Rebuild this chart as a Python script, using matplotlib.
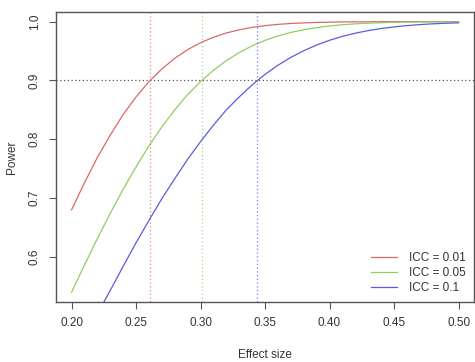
import matplotlib
matplotlib.use("Agg")
import matplotlib.pyplot as plt
import numpy as np

plt.rcParams['font.family'] = ['Liberation Sans', 'DejaVu Sans']

effect = np.round(np.arange(0.20, 0.5001, 0.01), 2)
power_001 = [0.680, 0.726, 0.769, 0.807, 0.842, 0.872, 0.898, 0.9195, 0.9376, 0.9524,
             0.9642, 0.9735, 0.9807, 0.9862, 0.9903, 0.9932, 0.9954, 0.9969, 0.9979, 0.9987,
             0.9991, 0.9995, 0.9997, 0.9998, 0.9999, 0.9999, 1.0, 1.0, 1.0, 1.0, 1.0]
power_005 = [0.540, 0.586, 0.631, 0.674, 0.715, 0.753, 0.789, 0.821, 0.850, 0.876,
             0.898, 0.9173, 0.9337, 0.9475, 0.9589, 0.9682, 0.9757, 0.9816, 0.9863, 0.9899,
             0.9927, 0.9947, 0.9963, 0.9974, 0.9982, 0.9988, 0.9992, 0.9994, 0.9996, 0.9997, 0.9998]
power_01 = [0.421, 0.462, 0.503, 0.543, 0.584, 0.624, 0.662, 0.699, 0.733, 0.766,
            0.796, 0.824, 0.850, 0.872, 0.8925, 0.9104, 0.9259, 0.9393, 0.9506, 0.9603,
            0.9683, 0.9750, 0.9804, 0.9848, 0.9883, 0.9911, 0.9933, 0.9950, 0.9963, 0.9973, 0.9980]
labels = ['ICC = 0.01', 'ICC = 0.05', 'ICC = 0.1']
cutoffs = [0.261, 0.301, 0.344]
target = 0.9

colors = ['#d9686a', '#8fcf5f', '#5b5be0']

fig = plt.figure(figsize=(4.75, 3.62), dpi=100)
ax = fig.add_axes([0.118, 0.166, 0.880, 0.801])

for y, c, lab in zip([power_001, power_005, power_01], colors, labels):
    ax.plot(effect, y, color=c, lw=0.9, label=lab)

ax.axhline(target, color='#555555', ls=(0, (1, 2)), lw=0.9)
for xc, c in zip(cutoffs, colors):
    ax.axvline(xc, color=c, ls=(0, (1, 2)), lw=0.9, alpha=0.8)

ax.set_xlim(0.188, 0.512)
ax.set_ylim(0.5235, 1.0165)
ax.set_xticks([0.20, 0.25, 0.30, 0.35, 0.40, 0.45, 0.50])
ax.set_xticklabels(['0.20', '0.25', '0.30', '0.35', '0.40', '0.45', '0.50'])
ax.set_yticks([0.6, 0.7, 0.8, 0.9, 1.0])
ax.set_yticklabels(['0.6', '0.7', '0.8', '0.9', '1.0'], rotation=90, va='center')
ax.tick_params(labelsize=8.5, length=5, color='#555555', labelcolor='#333333', pad=6)
for s in ax.spines.values():
    s.set_color('#555555')
    s.set_linewidth(1.0)

ax.set_xlabel('Effect size', fontsize=8.5, color='#333333', labelpad=14)
ax.set_ylabel('Power', fontsize=8.5, color='#333333', labelpad=8)

leg = ax.legend(loc='lower right', frameon=False, fontsize=8.5, handlelength=2.2,
                borderaxespad=0.3, labelspacing=0.25, handletextpad=1.0)
for t in leg.get_texts():
    t.set_color('#333333')

fig.savefig('out.png', dpi=100)
